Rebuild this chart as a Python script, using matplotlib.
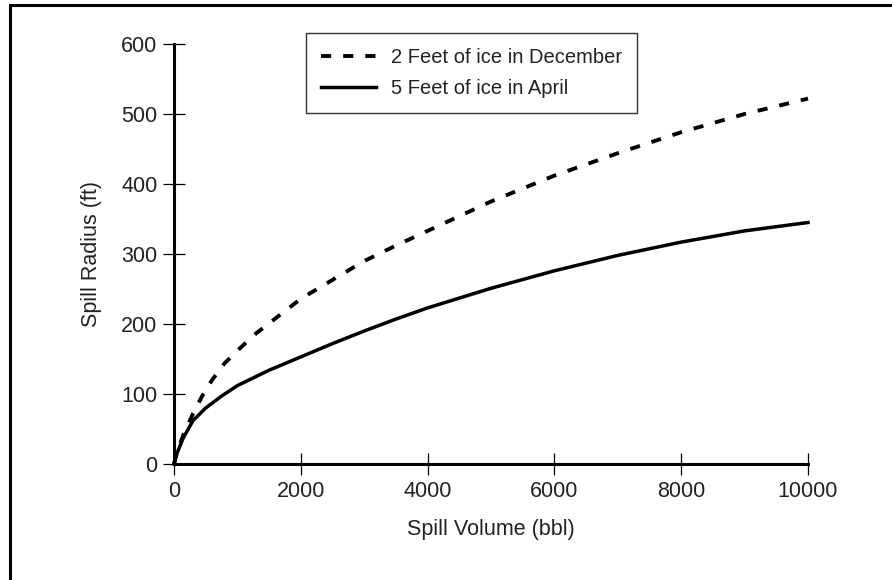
import matplotlib
matplotlib.use("Agg")
import matplotlib.pyplot as plt
from matplotlib.lines import Line2D

plt.rcParams['font.family'] = ['Liberation Sans', 'DejaVu Sans']

# spill volume (bbl) and spill radius (ft)
vol_dec = [0, 50, 150, 300, 450, 600, 800, 1000, 1300, 1500, 2000, 2500,
           3000, 3500, 4000, 5000, 6000, 7000, 8000, 9000, 10000]
rad_dec = [0, 18, 42, 72, 98, 120, 144, 162, 187, 201, 236, 263,
           290, 312, 333, 375, 412, 444, 474, 500, 522]

vol_apr = [0, 50, 150, 300, 500, 750, 1000, 1500, 2000, 2500, 3000, 3500,
           4000, 5000, 6000, 7000, 8000, 9000, 10000]
rad_apr = [0, 16, 38, 62, 80, 97, 112, 134, 153, 172, 190, 207,
           223, 251, 276, 298, 317, 333, 345]

x_ticks = [0, 2000, 4000, 6000, 8000, 10000]
y_ticks = [0, 100, 200, 300, 400, 500, 600]

fig = plt.figure(figsize=(8.92, 5.8), dpi=100)
ax = fig.add_axes([174 / 892, 1 - 464 / 580, 634 / 892, 420 / 580])

ax.plot(vol_dec, rad_dec, color='black', lw=2.8, linestyle=(0, (2.6, 3.1)),
        dash_capstyle='butt', label='2 Feet of ice in December', clip_on=False)
ax.plot(vol_apr, rad_apr, color='black', lw=2.5,
        label='5 Feet of ice in April', clip_on=False)

ax.set_xlim(0, 10000)
ax.set_ylim(0, 600)
ax.set_xticks(x_ticks)
ax.set_yticks(y_ticks)

for s in ['top', 'right']:
    ax.spines[s].set_visible(False)
for s in ['left', 'bottom']:
    ax.spines[s].set_linewidth(2.2)
    ax.spines[s].set_color('black')

ax.tick_params(direction='inout', length=16, width=0.9, colors='black',
               labelsize=15.5, labelcolor='#222222', pad=4)

ax.set_xlabel('Spill Volume (bbl)', fontsize=15.5, color='#222222')
ax.set_ylabel('Spill Radius (ft)', fontsize=15.5, color='#222222')
ax.xaxis.set_label_coords(0.5, -0.155)
ax.xaxis.label.set_va('center')
ax.yaxis.set_label_coords(-0.13, 0.5)
ax.yaxis.label.set_va('center')

leg = ax.legend(loc='upper left', bbox_to_anchor=(306 / 892, 1 - 33 / 580),
                bbox_transform=fig.transFigure, borderaxespad=0,
                fontsize=14.5, handlelength=2.75, handletextpad=0.7,
                borderpad=0.75, labelspacing=0.6, fancybox=False,
                framealpha=1, edgecolor='#333333')
leg.get_frame().set_linewidth(1.0)
for t in leg.get_texts():
    t.set_color('#222222')

# scanned border: left and top edges only
fig.add_artist(Line2D([10 / 892, 10 / 892], [0, 1 - 5 / 580],
                      transform=fig.transFigure, color='black', lw=2.2))
fig.add_artist(Line2D([10 / 892, 1], [1 - 5 / 580, 1 - 5 / 580],
                      transform=fig.transFigure, color='black', lw=2.2))

fig.savefig('out.png', dpi=100, facecolor='white')
